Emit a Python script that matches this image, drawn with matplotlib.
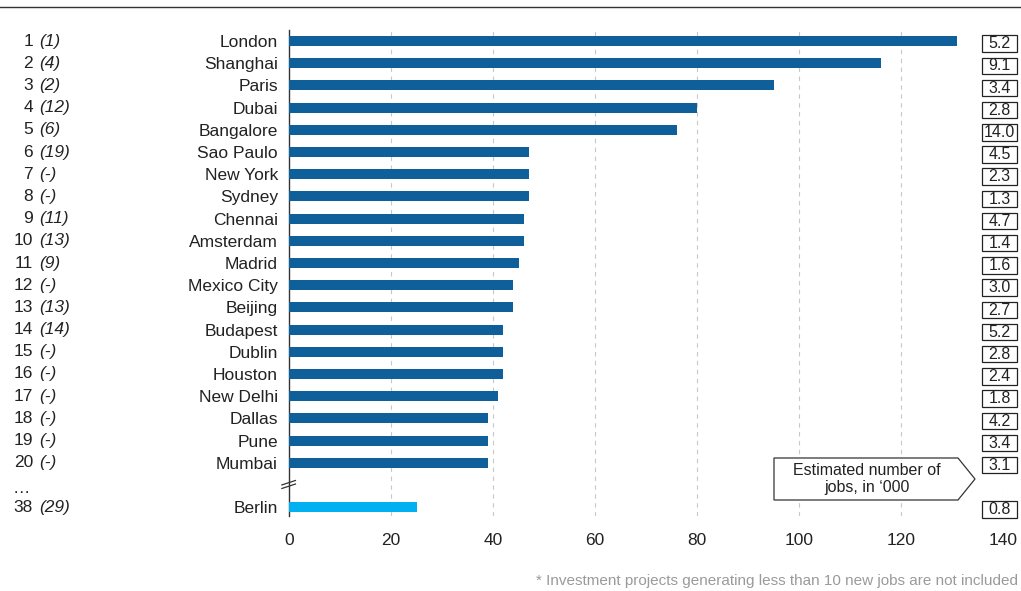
import matplotlib
matplotlib.use('Agg')
import matplotlib.pyplot as plt
import matplotlib.transforms as mtransforms
from matplotlib.patches import Rectangle, Polygon
from matplotlib.lines import Line2D

plt.rcParams['font.family'] = ['Liberation Sans', 'DejaVu Sans']

# ─────────────────────────────────────────
# DATA
# ─────────────────────────────────────────
cities = ['London', 'Shanghai', 'Paris', 'Dubai', 'Bangalore', 'Sao Paulo',
          'New York', 'Sydney', 'Chennai', 'Amsterdam', 'Madrid',
          'Mexico City', 'Beijing', 'Budapest', 'Dublin', 'Houston',
          'New Delhi', 'Dallas', 'Pune', 'Mumbai', 'Berlin']
projects = [131, 116, 95, 80, 76, 47, 47, 47, 46, 46, 45, 44, 44,
            42, 42, 42, 41, 39, 39, 39, 25]
ranks = ['1', '2', '3', '4', '5', '6', '7', '8', '9', '10', '11', '12', '13',
         '14', '15', '16', '17', '18', '19', '20', '38']
prev_ranks = ['(1)', '(4)', '(2)', '(12)', '(6)', '(19)', '(-)', '(-)',
              '(11)', '(13)', '(9)', '(-)', '(13)', '(14)', '(-)', '(-)',
              '(-)', '(-)', '(-)', '(-)', '(29)']
jobs = ['5.2', '9.1', '3.4', '2.8', '14.0', '4.5', '2.3', '1.3', '4.7', '1.4',
        '1.6', '3.0', '2.7', '5.2', '2.8', '2.4', '1.8', '4.2', '3.4', '3.1',
        '0.8']
xticks = [0, 20, 40, 60, 80, 100, 120, 140]

# row positions: top 20 consecutive, Berlin after a gap
ypos = list(range(20)) + [21]

DARK = '#0F5F9A'
LIGHT = '#00B0F0'
TXT = '#222222'

fig = plt.figure(figsize=(10.21, 5.91), dpi=100)
ax = fig.add_axes([289 / 1021, 1 - 516 / 591, (1003 - 289) / 1021, 486 / 591])

colors = [DARK] * 20 + [LIGHT]
ax.barh(ypos, projects, height=0.45, color=colors, zorder=3)

ax.set_xlim(0, 140)
ax.set_ylim(21.4, -0.5)
ax.set_xticks(xticks)
ax.tick_params(axis='x', length=0, pad=12.5, labelsize=12.5, labelcolor=TXT)
ax.set_yticks(ypos)
ax.set_yticklabels(cities)
ax.tick_params(axis='y', length=0, pad=8, labelsize=12.5, labelcolor=TXT)

for x in xticks[1:]:
    ax.axvline(x, color='#c8c8c8', lw=0.8, ls=(0, (4, 4)), zorder=1)

for s in ['top', 'right', 'bottom']:
    ax.spines[s].set_visible(False)
ax.spines['left'].set_color('#333333')
ax.spines['left'].set_linewidth(1.0)

# axis break marks between Mumbai and Berlin
tr_ax = mtransforms.blended_transform_factory(ax.transAxes, ax.transData)
for dy in (-0.08, 0.08):
    ax.add_line(Line2D([-0.010, 0.009], [19.98 + dy + 0.1, 19.98 + dy - 0.1],
                       transform=tr_ax, color='#333333', lw=0.9,
                       clip_on=False, zorder=5))

# rank labels and job boxes on the sides
tr = mtransforms.blended_transform_factory(fig.transFigure, ax.transData)
for y, r, pr, j in zip(ypos, ranks, prev_ranks, jobs):
    ax.text(33 / 1021, y, r, transform=tr, ha='right', va='center',
            fontsize=12.5, color=TXT)
    ax.text(39 / 1021, y, pr, transform=tr, ha='left', va='center',
            fontsize=12.5, color=TXT, style='italic')
    ax.add_patch(Rectangle((982 / 1021, y - 0.26), 35 / 1021, 0.74,
                           transform=tr, fill=False, ec='#222222', lw=0.9,
                           clip_on=False))
    ax.text(999.5 / 1021, y + 0.12, j, transform=tr, ha='center', va='center',
            fontsize=11.5, color=TXT)

ax.text(13 / 1021, 20.15, '…', transform=tr, ha='left', va='center',
        fontsize=12.5, color=TXT)

# legend arrow for the job boxes
pts = [(774, 458), (958, 458), (975, 479), (958, 500), (774, 500)]
arrow = Polygon([(px / 1021, 1 - py / 591) for px, py in pts], closed=True,
                transform=fig.transFigure, fc='white', ec='#333333', lw=0.9,
                zorder=6)
fig.patches.append(arrow)
fig.text(867 / 1021, 1 - 479 / 591, 'Estimated number of\njobs, in \u2018000',
         ha='center', va='center', fontsize=11.5, color=TXT, linespacing=1.2,
         zorder=7)

# top rule and footnote
fig.add_artist(Line2D([0, 1], [1 - 7 / 591, 1 - 7 / 591],
                      transform=fig.transFigure, color='#333333', lw=1.0))
fig.text(1018 / 1021, 1 - 581 / 591,
         '* Investment projects generating less than 10 new jobs are not included',
         ha='right', va='center', fontsize=11, color='#9a9a9a')

fig.savefig('out.png', dpi=100)
